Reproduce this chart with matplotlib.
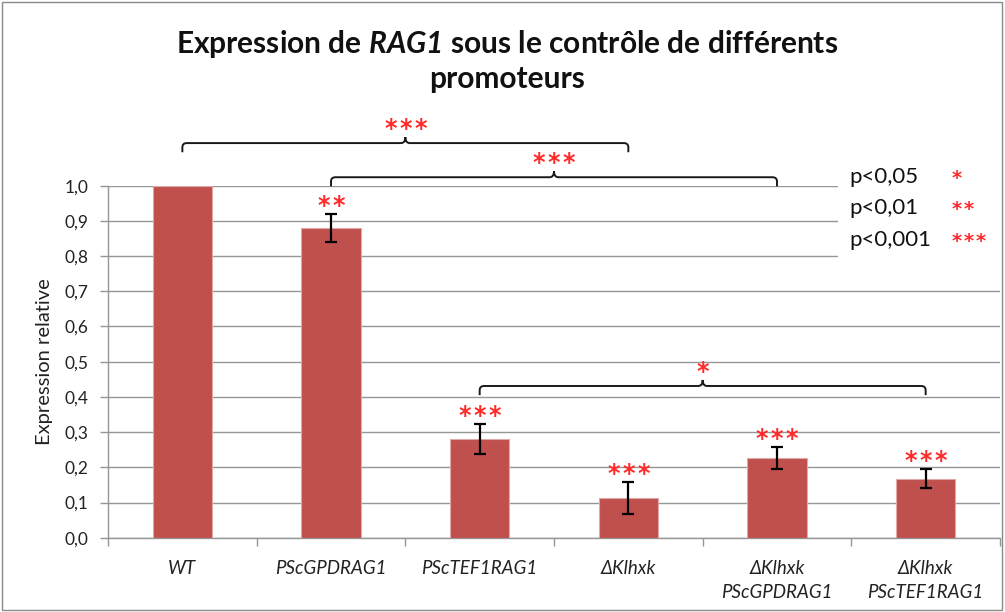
import matplotlib
matplotlib.use("Agg")
import matplotlib.pyplot as plt
from matplotlib.path import Path
from matplotlib.patches import PathPatch, Rectangle
import numpy as np

plt.rcParams['font.family'] = ['Lato', 'DejaVu Sans']
plt.rcParams['mathtext.fontset'] = 'custom'
plt.rcParams['mathtext.bfit'] = 'Lato:italic:bold'
plt.rcParams['mathtext.it'] = 'Lato:italic'

# Relative RAG1 expression per strain
categories = ["WT", "PScGPDRAG1", "PScTEF1RAG1", "ΔKlhxk",
              "ΔKlhxk\nPScGPDRAG1", "ΔKlhxk\nPScTEF1RAG1"]
expression = [1.0, 0.88, 0.28, 0.112, 0.227, 0.168]
errors = [0.0, 0.04, 0.043, 0.046, 0.032, 0.027]
signif = ["", "**", "***", "***", "***", "***"]

# Pairwise comparisons: (first bar, second bar, label)
comparisons = [(0, 3, "***"), (1, 4, "***"), (2, 5, "*")]

# Significance key
key_labels = ["p<0,05", "p<0,01", "p<0,001"]
key_stars = ["*", "**", "***"]

yticks = np.round(np.arange(0, 1.01, 0.1), 1)

BAR = '#C0504D'
RED = '#FF2A2A'
GRID = '#969696'
DARK = '#1a1a1a'
PX = 72 / 100  # points per pixel

fig = plt.figure(figsize=(10.05, 6.12), dpi=100)
ax = fig.add_axes([0.1075, 0.1214, 0.8875, 0.5752])

x = np.arange(len(categories))
ax.bar(x, expression, width=0.4, color=BAR, edgecolor='#E0A8A6',
       linewidth=0.8, zorder=3)
err_idx = [i for i, e in enumerate(errors) if e > 0]
ax.errorbar(x[err_idx], [expression[i] for i in err_idx],
            yerr=[errors[i] for i in err_idx], fmt='none', ecolor='black',
            elinewidth=1.6, capsize=4, capthick=1.6, zorder=4)

ax.set_xlim(-0.5, len(categories) - 0.5)
ax.set_ylim(0, 1.0)
ax.set_yticks(yticks)
ax.set_yticklabels([f"{v:.1f}".replace('.', ',') for v in yticks],
                   fontsize=12.5, color='#222222')
ax.yaxis.grid(True, color=GRID, linewidth=1.0, zorder=0)
ax.set_axisbelow(True)

ax.set_xticks(x)
ax.set_xticklabels(categories, fontsize=13.5, style='italic',
                   color='#222222', linespacing=1.5)
ax.set_xticks(np.arange(-0.5, len(categories) - 0.4, 1.0), minor=True)
ax.tick_params(axis='x', which='major', length=0, pad=16)
ax.tick_params(axis='x', which='minor', length=6, color=GRID, width=1)
ax.tick_params(axis='y', length=6, color=GRID, width=1, pad=8)

for side in ('top', 'right'):
    ax.spines[side].set_visible(False)
for side in ('left', 'bottom'):
    ax.spines[side].set_color(GRID)
    ax.spines[side].set_linewidth(1.0)

ax.set_ylabel("Expression relative", fontsize=14.5, color='#222222',
              labelpad=8)


def stars(xc, yc, label, size=17, pitch=15, lift=1):
    """Draw a row of asterisks centred on (xc, yc), one glyph per star."""
    n = len(label)
    for k in range(n):
        dx = (k - (n - 1) / 2) * pitch * PX
        ax.annotate('*', (xc, yc), xytext=(dx, lift * PX),
                    textcoords='offset points', ha='center', va='baseline',
                    fontsize=size, fontweight='bold', color=RED,
                    family='DejaVu Sans', annotation_clip=False, zorder=7)


# Stars above each bar
for i, (v, e, s) in enumerate(zip(expression, errors, signif)):
    if s:
        stars(i, v + e, s)


def bracket(x0, x1, y, label):
    drop, peak, rx, ry = 0.026, 0.017, 0.03, 0.012
    xm = (x0 + x1) / 2
    verts = [(x0, y - drop), (x0, y - ry), (x0, y), (x0 + rx, y),
             (xm - rx, y), (xm, y), (xm, y + peak),
             (xm, y), (xm + rx, y),
             (x1 - rx, y), (x1, y), (x1, y - ry), (x1, y - drop)]
    codes = [Path.MOVETO, Path.LINETO, Path.CURVE3, Path.CURVE3,
             Path.LINETO, Path.CURVE3, Path.CURVE3,
             Path.CURVE3, Path.CURVE3,
             Path.LINETO, Path.CURVE3, Path.CURVE3, Path.LINETO]
    ax.add_patch(PathPatch(Path(verts, codes), fill=False, edgecolor=DARK,
                           linewidth=1.4, clip_on=False, zorder=6))
    stars(xm, y + peak, label)


bracket_levels = [1.121, 1.024, 0.431]
for (a, b, lab), lvl in zip(comparisons, bracket_levels):
    bracket(a, b, lvl, lab)

# Key box covering the upper grid lines on the right
ax.add_patch(Rectangle((4.41, 0.78), 1.2, 0.30, facecolor='white',
                       edgecolor='none', clip_on=False, zorder=2))
key_y = [1.024, 0.936, 0.846]
for lab, st, ky in zip(key_labels, key_stars, key_y):
    ax.text(4.49, ky, lab, fontsize=16, color='#111111', ha='left',
            va='center', zorder=7, clip_on=False)
    for k in range(len(st)):
        ax.annotate('*', (5.17, ky), xytext=((6 + k * 12) * PX, -7 * PX),
                    textcoords='offset points', ha='center', va='baseline',
                    fontsize=14, fontweight='bold', color=RED,
                    family='DejaVu Sans', annotation_clip=False, zorder=7)

fig.text(0.505, 0.928,
         "Expression de $\\mathbfit{RAG1}$ sous le contrôle de différents",
         ha='center', va='center', fontsize=21.5, fontweight='bold',
         color='#111111')
fig.text(0.505, 0.871, "promoteurs", ha='center', va='center',
         fontsize=21.5, fontweight='bold', color='#111111')

fig.add_artist(Rectangle((0.002, 0.003), 0.995, 0.994,
                         transform=fig.transFigure, fill=False,
                         edgecolor='#8a8a8a', linewidth=1.0))

fig.savefig("out.png", dpi=100)
